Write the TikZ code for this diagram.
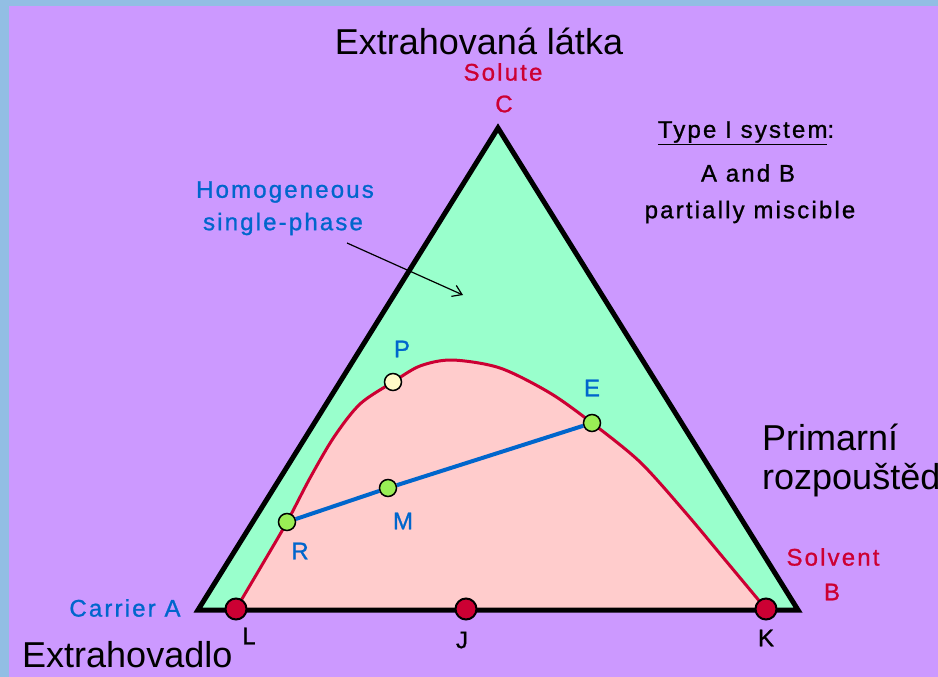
\documentclass[tikz,border=0pt]{standalone}
\usepackage{fontspec}
\setmainfont{Liberation Sans}
\newfontfamily\lblfont[LetterSpace=9, FakeBold=1]{Liberation Sans}
\usepackage{tikz}
\usetikzlibrary{arrows.meta}
\definecolor{slideblue}{RGB}{146,190,228}
\definecolor{lilac}{RGB}{204,153,255}
\definecolor{mint}{RGB}{153,255,204}
\definecolor{salmon}{RGB}{255,204,204}
\definecolor{crimson}{RGB}{204,0,51}
\definecolor{azure}{RGB}{0,102,204}
\definecolor{lime}{RGB}{153,238,85}
\definecolor{cream}{RGB}{255,250,200}

\begin{document}
\begin{tikzpicture}[x=1pt, y=-1pt,
                    big/.style={font=\fontsize{36}{40}\selectfont, inner sep=0pt},
                    lbl/.style={font=\lblfont\fontsize{24}{28}\selectfont, inner sep=0pt},
                    redlbl/.style={lbl, text=crimson},
                    bluelbl/.style={lbl, text=azure},
                    reddot/.style={circle, draw=black, line width=2pt, fill=crimson,
                                   minimum size=21pt, inner sep=0pt},
                    greendot/.style={circle, draw=black, line width=1.5pt, fill=lime,
                                     minimum size=17pt, inner sep=0pt}]
  \useasboundingbox (0,0) rectangle (938,677);
  \fill[slideblue] (0,0) rectangle (938,677);
  \fill[lilac] (9,6) rectangle (938,677);

  \coordinate (A) at (198,610);
  \coordinate (B) at (798,610);
  \coordinate (C) at (498,128);

  \fill[mint] (A) -- (B) -- (C) -- cycle;
  \fill[salmon] plot[smooth] coordinates {(236,609) (262,565) (287,522) (310,478)
      (334,437) (360,404) (393,382) (420,366) (452,360) (500,368) (550,393)
      (592,423) (640,462) (685,512) (726,561) (766,609)} -- cycle;
  \draw[crimson, line width=3pt] plot[smooth] coordinates {(236,609) (262,565)
      (287,522) (310,478) (334,437) (360,404) (393,382) (420,366) (452,360)
      (500,368) (550,393) (592,423) (640,462) (685,512) (726,561) (766,609)};
  \draw[line width=5pt, line join=miter] (A) -- (B) -- (C) -- cycle;

  \node[greendot] (R) at (287,522) {};
  \node[greendot] (M) at (388,488) {};
  \node[greendot] (E) at (592,423) {};
  \node[greendot, fill=cream] (P) at (393,382) {};
  \draw[azure, line width=4pt] (R) -- (M) -- (E);
  \node[reddot] (L) at (236,609) {};
  \node[reddot] (J) at (466,609) {};
  \node[reddot] (K) at (766,609) {};

  \node[big] (extr) at (479,41) {Extrahovaná látka};
  \node[redlbl] (solute) at (503,72) {Solute};
  \node[redlbl] (lblC) at (504,104) {C};
  \node[lbl] (type) at (746,133) {\underline{Type I system}:};
  \node[lbl] (ab) at (748,173) {A and B};
  \node[lbl] (misc) at (750,212) {partially miscible};
  \node[bluelbl] (homog) at (285,192) {Homogeneous};
  \node[bluelbl] (single) at (283,224) {single-phase};
  \coordinate (arrtail) at (347,243);
  \coordinate (arrhead) at (463,295);
  \draw[line width=1.2pt, -{Straight Barb[length=9pt, width=12pt]}] (arrtail) -- (arrhead);

  \node[bluelbl] (lblP) at (402,349) {P};
  \node[bluelbl] (lblE) at (592,388) {E};
  \node[bluelbl] (lblM) at (403,521) {M};
  \node[bluelbl] (lblR) at (300,551) {R};
  \node[bluelbl] (carrier) at (125,608) {Carrier A};
  \node[redlbl] (solvent) at (833,557) {Solvent};
  \node[redlbl] (lblB) at (832,592) {B};
  \node[big, anchor=west] (prim) at (762,437) {Primarní};
  \node[big, anchor=west] (rozp) at (762,480) {rozpouštědlo};
  \node[big, anchor=west] (extrv) at (22,655) {Extrahovadlo};
  \node[lbl] (lblL) at (249,636) {L};
  \node[lbl] (lblJ) at (462,640) {J};
  \node[lbl] (lblK) at (766,638) {K};
\end{tikzpicture}
\end{document}
